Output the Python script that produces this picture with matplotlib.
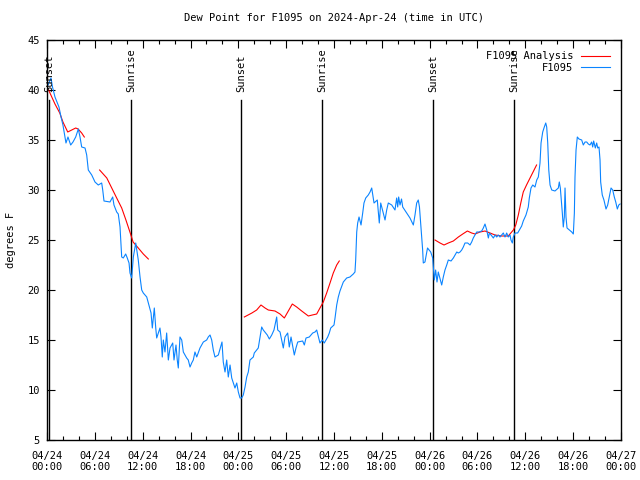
import matplotlib
matplotlib.use("Agg")
import matplotlib.pyplot as plt

# Tiempo en horas desde 2024-04-24 00:00 UTC
obs_hours = [0.13, 0.5, 0.69, 1.0, 1.5, 1.76, 2.0, 2.38, 2.63, 2.97, 3.26, 3.6, 3.93, 4.14, 4.35,
             4.77, 4.98, 5.18, 5.61, 6.02, 6.43, 6.86, 6.99, 7.15, 7.9, 8.24, 8.4, 8.74, 8.94,
             9.16, 9.37, 9.57, 9.87, 10.07, 10.29, 10.41, 10.62, 10.83, 11.13, 11.45, 11.67,
             11.88, 12.08, 12.51, 12.71, 13.05, 13.21, 13.46, 13.64, 13.76, 14.17, 14.3, 14.46,
             14.59, 14.8, 15.01, 15.22, 15.43, 15.77, 15.93, 16.18, 16.34, 16.47, 16.68, 16.9,
             17.1, 17.52, 17.72, 17.94, 18.15, 18.35, 18.56, 18.78, 19.19, 19.61, 20.03, 20.23,
             20.45, 20.66, 20.86, 21.07, 21.49, 21.95, 22.11, 22.33, 22.54, 22.74, 22.96, 23.17,
             23.58, 23.8, 24.0, 24.21, 24.42, 24.62, 24.84, 25.05, 25.25, 25.46, 25.88, 26.0,
             26.3, 26.5, 26.72, 26.93, 27.13, 27.63, 27.89, 28.19, 28.47, 28.81, 28.94, 29.23,
             29.44, 29.64, 29.85, 30.19, 30.39, 30.61, 31.02, 31.23, 31.45, 32.07, 32.28, 32.49,
             32.9, 33.33, 33.62, 33.83, 34.24, 34.53, 34.78, 35.21, 35.41, 35.59, 36.0, 36.13,
             36.34, 36.54, 36.75, 37.17, 37.59, 38.0, 38.42, 38.63, 38.72, 38.85, 38.97, 39.14,
             39.39, 39.6, 39.76, 39.98, 40.3, 40.52, 40.73, 41.02, 41.43, 41.68, 41.86, 42.4,
             42.61, 42.81, 43.24, 43.65, 43.86, 43.99, 44.11, 44.28, 44.47, 44.62, 45.12, 45.53,
             45.95, 46.16, 46.37, 46.57, 46.72, 46.87, 47.12, 47.2, 47.41, 47.73, 48.13, 48.38,
             48.58, 48.75, 48.92, 49.08, 49.51, 49.71, 49.92, 50.14, 50.34, 50.68, 50.97, 51.18,
             51.4, 51.6, 51.81, 52.02, 52.22, 52.43, 52.77, 53.06, 53.27, 53.47, 53.69, 53.9,
             54.19, 54.53, 54.73, 54.94, 55.16, 55.36, 55.49, 55.7, 55.99, 56.2, 56.41, 56.61,
             56.82, 57.03, 57.24, 57.45, 57.66, 57.86, 58.08, 58.2, 58.37, 58.49, 58.71, 59.04,
             59.33, 59.54, 59.74, 60.08, 60.37, 60.5, 60.71, 60.93, 61.21, 61.43, 61.63, 61.84,
             61.97, 62.18, 62.38, 62.56, 62.68, 62.81, 62.94, 63.1, 63.31, 63.72, 64.14, 64.26,
             64.39, 64.51, 64.64, 64.76, 64.89, 64.98, 65.1, 65.23, 65.52, 65.82, 66.02, 66.15,
             66.23, 66.36, 66.52, 66.73, 67.07, 67.27, 67.49, 67.7, 67.9, 68.11, 68.32, 68.45,
             68.57, 68.78, 68.95, 69.08, 69.24, 69.37, 69.45, 69.65, 69.86, 70.12, 70.33, 70.53,
             70.75, 70.96, 71.16, 71.34, 71.54, 71.72, 71.88]
obs_dewpt = [40.5, 41.2, 40.3, 39.3, 38.3, 37.3, 36.5, 34.7, 35.3, 34.5, 34.8, 35.3, 36.1, 35.3, 34.3,
             34.2, 33.5, 32.0, 31.5, 30.8, 30.5, 30.7, 30.0, 28.9, 28.8, 29.3, 28.5, 27.8, 27.6,
             26.3, 23.3, 23.2, 23.6, 23.2, 22.7, 21.7, 21.2, 23.3, 24.7, 23.0, 21.3,
             20.0, 19.7, 19.3, 18.7, 17.7, 16.2, 18.2, 16.2, 15.2, 16.2, 15.3, 13.3,
             15.0, 13.8, 15.7, 13.0, 14.2, 14.7, 13.0, 14.5, 13.0, 12.2, 15.3, 15.0,
             13.8, 13.2, 13.0, 12.3, 12.7, 13.0, 13.8, 13.3, 14.2, 14.8, 15.0, 15.3,
             15.5, 15.0, 14.0, 13.3, 13.5, 14.8, 12.8, 11.8, 13.0, 11.3, 12.5, 11.2,
             10.2, 10.7, 9.8, 9.2, 9.2, 9.5, 10.3, 11.3, 11.8, 13.0, 13.3, 13.7,
             14.0, 14.2, 15.3, 16.3, 16.0, 15.5, 15.1, 15.5, 16.0, 17.3, 16.0, 15.8,
             15.0, 14.2, 15.3, 15.7, 14.3, 15.3, 13.5, 14.2, 14.8, 14.9, 14.5, 15.2,
             15.3, 15.7, 15.8, 16.0, 14.7, 15.0, 14.7, 15.3, 15.7, 16.2, 16.5, 17.2,
             18.5, 19.3, 19.9, 20.8, 21.2, 21.3, 21.6, 21.8, 23.0, 25.8, 26.7, 27.3,
             26.5, 27.7, 28.7, 29.2, 29.5, 29.8, 30.2, 28.7, 29.0, 26.7, 28.7, 27.0,
             28.0, 28.7, 28.5, 28.0, 29.2, 28.3, 29.3, 28.5, 29.1, 28.3, 27.7, 27.2,
             26.5, 27.5, 28.7, 29.0, 28.3, 26.7, 24.0, 22.7, 22.8, 24.2, 23.8, 23.2,
             21.0, 22.0, 20.8, 21.8, 20.5, 21.3, 22.0, 22.5, 23.0, 22.9, 23.2, 23.5,
             23.8, 23.7, 23.8, 24.0, 24.3, 24.7, 24.7, 24.5, 24.8, 25.2, 25.5, 25.8,
             25.8, 25.9, 26.2, 26.6, 26.0, 25.2, 25.7, 25.5, 25.2, 25.5, 25.3, 25.5,
             25.3, 25.5, 25.7, 25.3, 25.7, 25.3, 25.5, 25.0, 24.7, 25.3, 25.7, 25.7,
             26.1, 26.4, 26.9, 27.5, 28.3, 29.2, 30.2, 30.5, 30.3, 31.0, 31.3, 32.7,
             34.7, 35.8, 36.3, 36.7, 36.3, 34.7, 32.0, 30.5, 30.0, 29.9, 30.2, 30.8,
             30.2, 29.0, 27.7, 26.3, 27.3, 30.2, 27.3, 26.2, 26.0, 25.8, 25.6, 27.7,
             31.3, 34.0, 35.3, 35.1, 35.0, 34.5, 34.8, 34.8, 34.6, 34.5, 34.8, 34.3,
             34.9, 34.2, 34.7, 34.2, 34.3, 33.0, 30.8, 29.5, 29.0, 28.1, 28.5, 29.3,
             30.2, 30.0, 29.3, 28.8, 28.1, 28.5, 28.6]

# Segmentos del análisis
ana_hours = [
    [0.2, 0.6, 1.0, 1.6, 2.0, 2.6, 3.1, 3.6, 3.9, 4.35, 4.68],
    [6.6, 7.5, 8.12, 8.74, 9.37, 9.9, 10.4, 10.8, 11.45, 12.08, 12.71],
    [24.75, 25.7, 26.3, 26.84, 27.35, 27.76, 28.6, 29.23, 29.77, 30.27, 30.77, 31.32,
     31.95, 32.78, 33.28, 33.83, 34.24, 34.66, 35.08, 35.5, 35.91, 36.34, 36.66],
    [48.67, 49.3, 49.8, 50.34, 50.97, 51.6, 52.15, 52.73, 53.27, 53.69, 54.32, 54.94,
     55.57, 56.2, 57.03, 57.86, 58.5, 58.8, 59.12, 59.43, 59.74, 60.15, 60.78, 61.41],
]
ana_dewpt = [
    [40.0, 39.3, 38.6, 37.7, 36.8, 35.8, 36.0, 36.2, 36.1, 35.7, 35.3],
    [32.0, 31.2, 30.2, 29.2, 28.2, 27.0, 25.8, 24.8, 24.2, 23.6, 23.1],
    [17.3, 17.7, 18.0, 18.5, 18.2, 18.0, 17.9, 17.6, 17.2, 17.9, 18.6, 18.3,
     17.9, 17.4, 17.5, 17.6, 18.2, 18.8, 19.7, 20.7, 21.7, 22.5, 22.9],
    [25.0, 24.7, 24.5, 24.7, 24.9, 25.3, 25.6, 25.9, 25.7, 25.6, 25.8, 25.9,
     25.7, 25.5, 25.4, 25.4, 26.0, 26.5, 27.5, 28.7, 29.8, 30.5, 31.5, 32.5],
]

sun_hours = [0.25, 10.54, 24.33, 34.5, 48.42, 58.58]
sun_labels = ["Sunset", "Sunrise", "Sunset", "Sunrise", "Sunset", "Sunrise"]

tick_hours = list(range(0, 73, 6))
tick_labels = ["04/24\n00:00", "04/24\n06:00", "04/24\n12:00", "04/24\n18:00",
               "04/25\n00:00", "04/25\n06:00", "04/25\n12:00", "04/25\n18:00",
               "04/26\n00:00", "04/26\n06:00", "04/26\n12:00", "04/26\n18:00",
               "04/27\n00:00"]

plt.rcParams['font.family'] = 'DejaVu Sans Mono'
plt.rcParams['font.size'] = 7.5

fig = plt.figure(figsize=(6.4, 4.8), dpi=100)
ax = fig.add_axes([47 / 640, 40 / 480, 574 / 640, 400 / 480])

# Líneas de amanecer / atardecer
for h, lab in zip(sun_hours, sun_labels):
    ax.plot([h, h], [5, 39], color='black', linewidth=1.0)
    ax.text(h, 39.8, lab, rotation=90, ha='center', va='bottom', fontsize=7.5)

for i, (hh, vv) in enumerate(zip(ana_hours, ana_dewpt)):
    ax.plot(hh, vv, color='#ff0000', linewidth=0.8,
            label='F1095 Analysis' if i == 0 else None)
ax.plot(obs_hours, obs_dewpt, color='#0a84ff', linewidth=0.8, label='F1095')

ax.set_xlim(0, 72)
ax.set_ylim(5, 45)
ax.set_xticks(tick_hours)
ax.set_xticklabels(tick_labels, linespacing=1.1)
ax.set_xticks(range(0, 73, 2), minor=True)
ax.set_yticks(range(5, 46, 5))
ax.tick_params(which='both', direction='in', top=True, right=True, colors='black')
ax.tick_params(which='major', length=6, width=0.8)
ax.tick_params(axis='x', which='major', pad=8)
ax.tick_params(axis='y', which='major', pad=5)
ax.tick_params(which='minor', length=3, width=0.8)
for s in ax.spines.values():
    s.set_linewidth(1.0)

ax.set_ylabel('degrees F', labelpad=8)
ax.set_title('Dew Point for F1095 on 2024-Apr-24 (time in UTC)', fontsize=7.5, pad=14)

leg = ax.legend(loc='upper right', frameon=False, markerfirst=False, alignment='right',
                handlelength=2.7, handletextpad=0.8, labelspacing=0.15,
                borderaxespad=0.7, fontsize=7.5)

fig.savefig('out.png', dpi=100)
